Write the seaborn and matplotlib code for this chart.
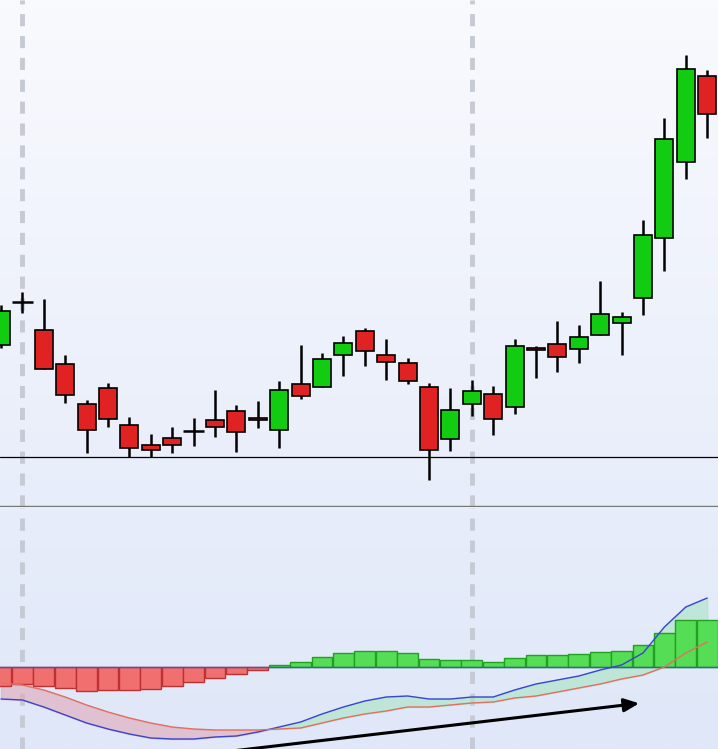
import numpy as np
import matplotlib
matplotlib.use("Agg")
import matplotlib.pyplot as plt
import seaborn as sns
import pandas as pd

sns.set_style("white")

# ---- data (price units, pixel-scale) ----
opens  = [162,205,177,143,103,119,82,62,69,76,87,96,89,77,123,120,152,176,152,144,120,68,103,113,100,159,163,158,172,184,209,269,345,431]
closes = [196,205,138,112,77,88,59,57,62,76,80,75,87,117,111,148,164,156,145,126,57,97,116,88,161,157,150,170,193,190,272,368,438,393]
highs  = [202,215,208,152,107,124,90,73,80,89,117,102,106,126,162,154,171,179,168,149,124,119,127,121,168,161,186,182,226,195,287,389,452,437]
lows   = [159,194,138,104,54,80,50,50,54,61,70,55,79,59,108,120,131,141,127,123,27,56,91,72,93,129,135,144,172,152,192,236,328,369]
hist   = [-19,-17,-19,-21,-24,-23,-23,-22,-19,-15,-11,-7,-3,2,5,10,14,16,16,14,8,7,7,5,9,12,12,13,15,16,22,34,47,47]
macd   = [-32,-33,-40,-48,-56,-62,-67,-71,-72,-72,-70,-69,-65,-60,-55,-47,-40,-34,-30,-29,-32,-32,-30,-30,-23,-17,-13,-9,-3,2,14,40,60,69]
signal = [-16,-18,-23,-30,-38,-45,-51,-56,-60,-62,-63,-63,-63,-62,-61,-56,-51,-47,-44,-40,-40,-38,-36,-35,-31,-29,-25,-21,-17,-12,-8,0,14,25]
support_level = 50
marker_idx = [1, 22]

n = len(opens)
idx = np.arange(n)
df = pd.DataFrame({"i": idx, "macd": macd, "signal": signal, "hist": hist})

W, H = 718, 749
fig = plt.figure(figsize=(W/100, H/100), dpi=100)

# background gradient
bg = fig.add_axes([0, 0, 1, 1])
grad = np.linspace(0, 1, 256)[:, None]
from matplotlib.colors import LinearSegmentedColormap
cmap = LinearSegmentedColormap.from_list("bg", ["#f9fafe", "#dfe7f8"])
bg.imshow(grad, aspect="auto", cmap=cmap, extent=[0, 1, 0, 1])
bg.axis("off")

xl = (-1/21.4, 717/21.4)
top = fig.add_axes([0, (H-507)/H, 1, 507/H])
bot = fig.add_axes([0, 0, 1, (H-508)/H])
for ax in (top, bot):
    ax.set_facecolor("none")
    ax.set_xlim(*xl)
    for s in ax.spines.values():
        s.set_visible(False)
    ax.set_xticks([]); ax.set_yticks([])
    for m in marker_idx:
        ax.axvline(m, color="#c6cad4", lw=3.5, dashes=(2.5, 2), zorder=1)

top.set_ylim(0, 507)
bot.set_ylim(-82, 159)

top.axhline(support_level, color="black", lw=0.9, zorder=2)
top.axhline(0.6, color="#777777", lw=1, zorder=2)

green, red = "#11cc11", "#e02222"
for i in range(n):
    o, c, h, l = opens[i], closes[i], highs[i], lows[i]
    top.vlines(i, l, h, color="black", lw=1.8, zorder=3)
    if o == c:
        top.hlines(o, i-0.5, i+0.5, color="black", lw=1.8, zorder=4)
    else:
        col = green if c > o else red
        top.bar(i, abs(c-o), bottom=min(o, c), width=0.85, color=col,
                edgecolor="black", linewidth=1.2, zorder=4)

# MACD panel
hcols = ["#f07070" if v < 0 else "#55dd55" for v in hist]
ecols = ["#c03030" if v < 0 else "#22a022" for v in hist]
bot.bar(idx, hist, width=0.97, color=hcols, edgecolor=ecols, linewidth=1, zorder=3)
bot.axhline(0, color="#4455bb", lw=1, zorder=4)
m = np.array(macd, float); s = np.array(signal, float)
bot.fill_between(idx, m, s, where=m <= s, interpolate=True, color="#e0a8b8", alpha=0.6, zorder=2)
bot.fill_between(idx, m, s, where=m >= s, interpolate=True, color="#a8e4c4", alpha=0.6, zorder=2)
sns.lineplot(data=df, x="i", y="macd", ax=bot, color="#3a44cc", lw=1, zorder=5)
sns.lineplot(data=df, x="i", y="signal", ax=bot, color="#e07060", lw=1, zorder=5)
bot.set_xlabel(""); bot.set_ylabel("")
bot.set_xticks([]); bot.set_yticks([])
bot.set_xlim(*xl); bot.set_ylim(-82, 159)

bot.annotate("", xy=(29.95, -36), xytext=(10.0, -86),
             arrowprops=dict(arrowstyle="-|>,head_length=0.9,head_width=0.4", color="black", lw=2.2),
             annotation_clip=False, zorder=6)

fig.savefig("out.png", dpi=100)
